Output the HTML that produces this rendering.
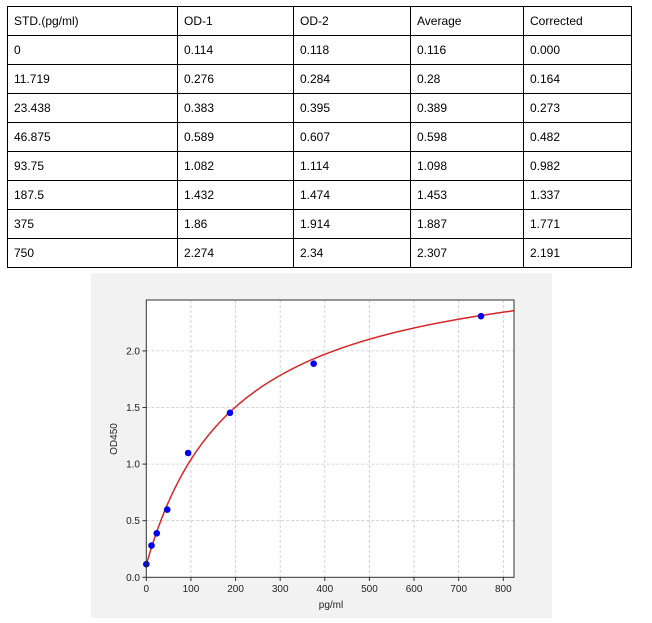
<!DOCTYPE html>
<html><head><meta charset="utf-8"><style>
body{margin:0;width:652px;height:623px;background:#fff;position:relative;overflow:hidden;font-family:"Liberation Sans",sans-serif}
table{position:absolute;left:7px;top:6px;border-collapse:collapse;font-size:12px;color:#000}
td{border:1px solid #000;height:29px;padding:0 0 0 6px;box-sizing:border-box}
</style></head><body>
<table>
<colgroup><col style="width:170px"><col style="width:116px"><col style="width:117px"><col style="width:113px"><col style="width:108px"></colgroup>
<tr><td>STD.(pg/ml)</td><td>OD-1</td><td>OD-2</td><td>Average</td><td>Corrected</td></tr>
<tr><td>0</td><td>0.114</td><td>0.118</td><td>0.116</td><td>0.000</td></tr>
<tr><td>11.719</td><td>0.276</td><td>0.284</td><td>0.28</td><td>0.164</td></tr>
<tr><td>23.438</td><td>0.383</td><td>0.395</td><td>0.389</td><td>0.273</td></tr>
<tr><td>46.875</td><td>0.589</td><td>0.607</td><td>0.598</td><td>0.482</td></tr>
<tr><td>93.75</td><td>1.082</td><td>1.114</td><td>1.098</td><td>0.982</td></tr>
<tr><td>187.5</td><td>1.432</td><td>1.474</td><td>1.453</td><td>1.337</td></tr>
<tr><td>375</td><td>1.86</td><td>1.914</td><td>1.887</td><td>1.771</td></tr>
<tr><td>750</td><td>2.274</td><td>2.34</td><td>2.307</td><td>2.191</td></tr>
</table>
<svg id="s" width="652" height="623" style="position:absolute;left:0;top:0" font-family="Liberation Sans, sans-serif">
<rect x="91" y="273" width="461" height="345" fill="#f2f2f2"/>
<rect x="146.3" y="300" width="367.7" height="277.3" fill="#fff"/>
<g id="g"></g>
<rect x="146.3" y="300" width="367.7" height="277.3" fill="none" stroke="#333" stroke-width="1"/>
<text x="331" y="608" font-size="10" text-anchor="middle" fill="#222">pg/ml</text>
<text transform="translate(117,439) rotate(-90)" font-size="10" text-anchor="middle" fill="#222">OD450</text>
</svg>
<script>
var g=document.getElementById('g'),h='';
function X(v){return 146.3+v*0.44625}function Y(v){return 577.3-v*113.2}
for(var i=0;i<=800;i+=100){var x=X(i);
if(i>0)h+='<line x1="'+x+'" y1="300" x2="'+x+'" y2="577.3" stroke="#c8c8c8" stroke-dasharray="3,2" stroke-width="0.8"/>';
h+='<line x1="'+x+'" y1="577.3" x2="'+x+'" y2="581" stroke="#333"/>';
h+='<text x="'+x+'" y="592" font-size="10" text-anchor="middle" fill="#222">'+i+'</text>';}
for(var j=0;j<=2;j+=0.5){var y=Y(j);
if(j>0)h+='<line x1="146.3" y1="'+y+'" x2="514" y2="'+y+'" stroke="#c8c8c8" stroke-dasharray="3,2" stroke-width="0.8"/>';
h+='<line x1="142.5" y1="'+y+'" x2="146.3" y2="'+y+'" stroke="#333"/>';
h+='<text x="140" y="'+(y+3.5)+'" font-size="10" text-anchor="end" fill="#222">'+j.toFixed(1)+'</text>';}
var d='';for(var x=0;x<=826;x+=3){var v=2.9-2.79/(1+x/200);d+=(x?'L':'M')+X(x).toFixed(1)+','+Y(v).toFixed(1);}
h+='<path d="'+d+'" fill="none" stroke="#d62728" stroke-width="1.5"/>';
var P=[[0,0.116],[11.719,0.28],[23.438,0.389],[46.875,0.598],[93.75,1.098],[187.5,1.453],[375,1.887],[750,2.307]];
P.forEach(function(p){h+='<circle cx="'+X(p[0])+'" cy="'+Y(p[1])+'" r="3.3" fill="#0000ee"/>';});
g.innerHTML=h;
</script>
</body></html>
